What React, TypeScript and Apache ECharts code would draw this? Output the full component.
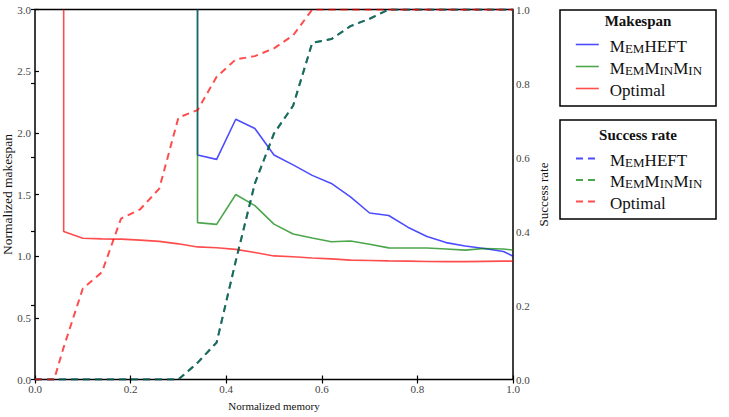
import React, { useEffect, useRef } from "react";
import * as echarts from "echarts";

// Memory sizes (normalized) at which schedules were computed
const memoryGrid = [
  0.06, 0.1, 0.14, 0.18, 0.22, 0.26, 0.3, 0.34, 0.38, 0.42, 0.46, 0.5, 0.54,
  0.58, 0.62, 0.66, 0.7, 0.74, 0.78, 0.82, 0.86, 0.9, 0.94, 0.98, 1.0,
];
// Heuristics only succeed from this memory size upward
const heuristicGrid = memoryGrid.slice(7);

// Normalized makespan
const optimalMakespan = [
  1.2, 1.145, 1.14, 1.138, 1.13, 1.12, 1.1, 1.075, 1.068, 1.055, 1.03, 1.002,
  0.995, 0.985, 0.978, 0.968, 0.965, 0.962, 0.96, 0.957, 0.956, 0.956, 0.958,
  0.96, 0.96,
];
const memHeftMakespan = [
  1.82, 1.785, 2.11, 2.035, 1.82, 1.74, 1.655, 1.59, 1.48, 1.35, 1.33, 1.235,
  1.16, 1.11, 1.083, 1.062, 1.038, 1.0,
];
const memMinMinMakespan = [
  1.272, 1.258, 1.5, 1.41, 1.26, 1.18, 1.147, 1.117, 1.123, 1.096, 1.067,
  1.066, 1.066, 1.058, 1.049, 1.062, 1.058, 1.05,
];
// Value used where no feasible schedule exists (drawn off the top of the axis)
const OFF_SCALE = 3;

// Success rate
const successGrid = [
  0, 0.04, 0.06, 0.1, 0.14, 0.18, 0.22, 0.26, 0.3, 0.34, 0.38, 0.42, 0.46, 0.5,
  0.54, 0.58, 0.62, 0.66, 0.7, 0.74, 0.78, 0.82, 0.86, 0.9, 0.94, 0.98, 1.0,
];
const optimalSuccess = [
  0, 0, 0.087, 0.246, 0.29, 0.435, 0.46, 0.516, 0.708, 0.728, 0.818, 0.865,
  0.874, 0.895, 0.93, 1, 1, 1, 1, 1, 1, 1, 1, 1, 1, 1, 1,
];
const heuristicSuccess = [
  0, 0, 0, 0, 0, 0, 0, 0, 0, 0.045, 0.1, 0.32, 0.53, 0.665, 0.74, 0.91, 0.92,
  0.955, 0.975, 1, 1, 1, 1, 1, 1, 1, 1,
];

const FONT = "'Liberation Serif', 'DejaVu Serif', serif";
const BLUE = "#0000ff";
const GREEN = "#008000";
const RED = "#ff0000";
const DASH = [7, 5];

const pairs = (xs: number[], ys: number[]) => xs.map((x, i) => [x, ys[i]]);

const legendLabels: Record<string, string> = {
  "MemHEFT makespan": "{pad| }{big|M}{sm|EM}{big|HEFT}",
  "MemMinMin makespan": "{pad| }{big|M}{sm|EM}{big|M}{sm|IN}{big|M}{sm|IN}",
  "Optimal makespan": "{pad| }{big|Optimal}",
  "MemHEFT success": "{pad| }{big|M}{sm|EM}{big|HEFT}",
  "MemMinMin success": "{pad| }{big|M}{sm|EM}{big|M}{sm|IN}{big|M}{sm|IN}",
  "Optimal success": "{pad| }{big|Optimal}",
};

const legendText = {
  fontFamily: FONT,
  fontSize: 17,
  color: "#111",
  rich: {
    pad: { width: 6, fontSize: 17, fontFamily: FONT },
    big: { fontSize: 17, fontFamily: FONT, color: "#111", verticalAlign: "bottom", lineHeight: 20 },
    sm: { fontSize: 13, fontFamily: FONT, color: "#111", verticalAlign: "bottom", lineHeight: 20 },
  },
};

function lineSeries(
  name: string,
  data: number[][],
  color: string,
  dashed: boolean,
  yAxisIndex: number
) {
  return {
    name,
    type: "line",
    data,
    yAxisIndex,
    xAxisIndex: 0,
    symbol: "none",
    showSymbol: false,
    clip: true,
    lineStyle: {
      color,
      opacity: 0.7,
      width: dashed ? 2 : 1.6,
      type: dashed ? DASH : "solid",
    },
    itemStyle: { color, opacity: 0.7 },
    emphasis: { disabled: true },
  };
}

export default function App() {
  const ref = useRef<HTMLDivElement>(null);

  useEffect(() => {
    if (!ref.current) return;
    const chart = echarts.init(ref.current, undefined, { renderer: "svg" });

    const tickLabel = {
      fontFamily: FONT,
      fontSize: 11,
      color: "#444",
      formatter: (v: number) => v.toFixed(1),
    };
    const tick = { inside: true, length: 4, lineStyle: { color: "#000", width: 1.2 } };
    const nameStyle = { fontFamily: FONT, color: "#111" };

    const legendBase = {
      orient: "vertical",
      left: 570,
      itemWidth: 23,
      itemHeight: 12,
      selectedMode: false,
      formatter: (n: string) => legendLabels[n],
      textStyle: legendText,
      itemStyle: { opacity: 0, borderWidth: 0 },
    };

    chart.setOption({
      animation: false,
      backgroundColor: "#fff",
      grid: {
        left: 35,
        top: 9.5,
        right: 216,
        bottom: 37.5,
        outerBoundsMode: "none",
        containLabel: false,
        show: true,
        borderColor: "#000",
        borderWidth: 1.5,
        backgroundColor: "transparent",
      },
      xAxis: [
        {
          type: "value",
          min: 0,
          max: 1,
          interval: 0.2,
          position: "bottom",
          name: "Normalized memory",
          nameLocation: "middle",
          nameGap: 21,
          nameMoveOverlap: false,
          nameTextStyle: { ...nameStyle, fontSize: 11 },
          axisLine: { show: false },
          axisTick: tick,
          axisLabel: { ...tickLabel, margin: 4 },
          splitLine: { show: false },
        },
        {
          type: "value",
          min: 0,
          max: 1,
          interval: 0.2,
          position: "top",
          axisLine: { show: false },
          axisTick: tick,
          axisLabel: { show: false },
          splitLine: { show: false },
        },
      ],
      yAxis: [
        {
          type: "value",
          min: 0,
          max: 3,
          interval: 0.5,
          position: "left",
          name: "Normalized makespan",
          nameLocation: "middle",
          nameGap: 21,
          nameRotate: 90,
          nameMoveOverlap: false,
          nameTextStyle: { ...nameStyle, fontSize: 13.5 },
          axisLine: { show: false },
          axisTick: tick,
          axisLabel: { ...tickLabel, margin: 4 },
          splitLine: { show: false },
        },
        {
          type: "value",
          min: 0,
          max: 1,
          interval: 0.2,
          position: "right",
          name: "Success rate",
          nameLocation: "middle",
          nameGap: 24,
          nameRotate: 90,
          nameMoveOverlap: false,
          nameTextStyle: { ...nameStyle, fontSize: 13 },
          axisLine: { show: false },
          axisTick: tick,
          axisLabel: { ...tickLabel, margin: 3 },
          splitLine: { show: false },
        },
      ],
      legend: [
        {
          ...legendBase,
          data: ["MemHEFT makespan", "MemMinMin makespan", "Optimal makespan"],
          top: 31,
          itemGap: 3.5,
          lineStyle: { width: 1.6, type: "solid" },
        },
        {
          ...legendBase,
          data: ["MemHEFT success", "MemMinMin success", "Optimal success"],
          top: 145,
          itemGap: 3,
          lineStyle: { width: 2, type: DASH },
        },
      ],
      graphic: [
        {
          type: "rect",
          shape: { x: 560, y: 10, width: 156, height: 96 },
          style: { fill: "#fff", stroke: "#000", lineWidth: 1.5 },
          z: -1,
          silent: true,
        },
        {
          type: "text",
          x: 638,
          y: 21,
          style: {
            text: "Makespan",
            fontFamily: FONT,
            fontSize: 15,
            fontWeight: "bold",
            fill: "#111",
            align: "center",
            verticalAlign: "middle",
          },
          silent: true,
        },
        {
          type: "rect",
          shape: { x: 560, y: 120, width: 156, height: 99 },
          style: { fill: "#fff", stroke: "#000", lineWidth: 1.5 },
          z: -1,
          silent: true,
        },
        {
          type: "text",
          x: 638,
          y: 135,
          style: {
            text: "Success rate",
            fontFamily: FONT,
            fontSize: 15,
            fontWeight: "bold",
            fill: "#111",
            align: "center",
            verticalAlign: "middle",
          },
          silent: true,
        },
      ],
      series: [
        lineSeries(
          "MemHEFT makespan",
          [[heuristicGrid[0], OFF_SCALE], ...pairs(heuristicGrid, memHeftMakespan)],
          BLUE,
          false,
          0
        ),
        lineSeries(
          "MemMinMin makespan",
          [[heuristicGrid[0], OFF_SCALE], ...pairs(heuristicGrid, memMinMinMakespan)],
          GREEN,
          false,
          0
        ),
        lineSeries(
          "Optimal makespan",
          [[memoryGrid[0], OFF_SCALE], ...pairs(memoryGrid, optimalMakespan)],
          RED,
          false,
          0
        ),
        lineSeries("MemHEFT success", pairs(successGrid, heuristicSuccess), BLUE, true, 1),
        lineSeries("MemMinMin success", pairs(successGrid, heuristicSuccess), GREEN, true, 1),
        lineSeries("Optimal success", pairs(successGrid, optimalSuccess), RED, true, 1),
      ],
    });

    return () => chart.dispose();
  }, []);

  return (
    <div
      ref={ref}
      style={{ position: "absolute", left: 0, top: 0, width: 729, height: 417 }}
    />
  );
}
